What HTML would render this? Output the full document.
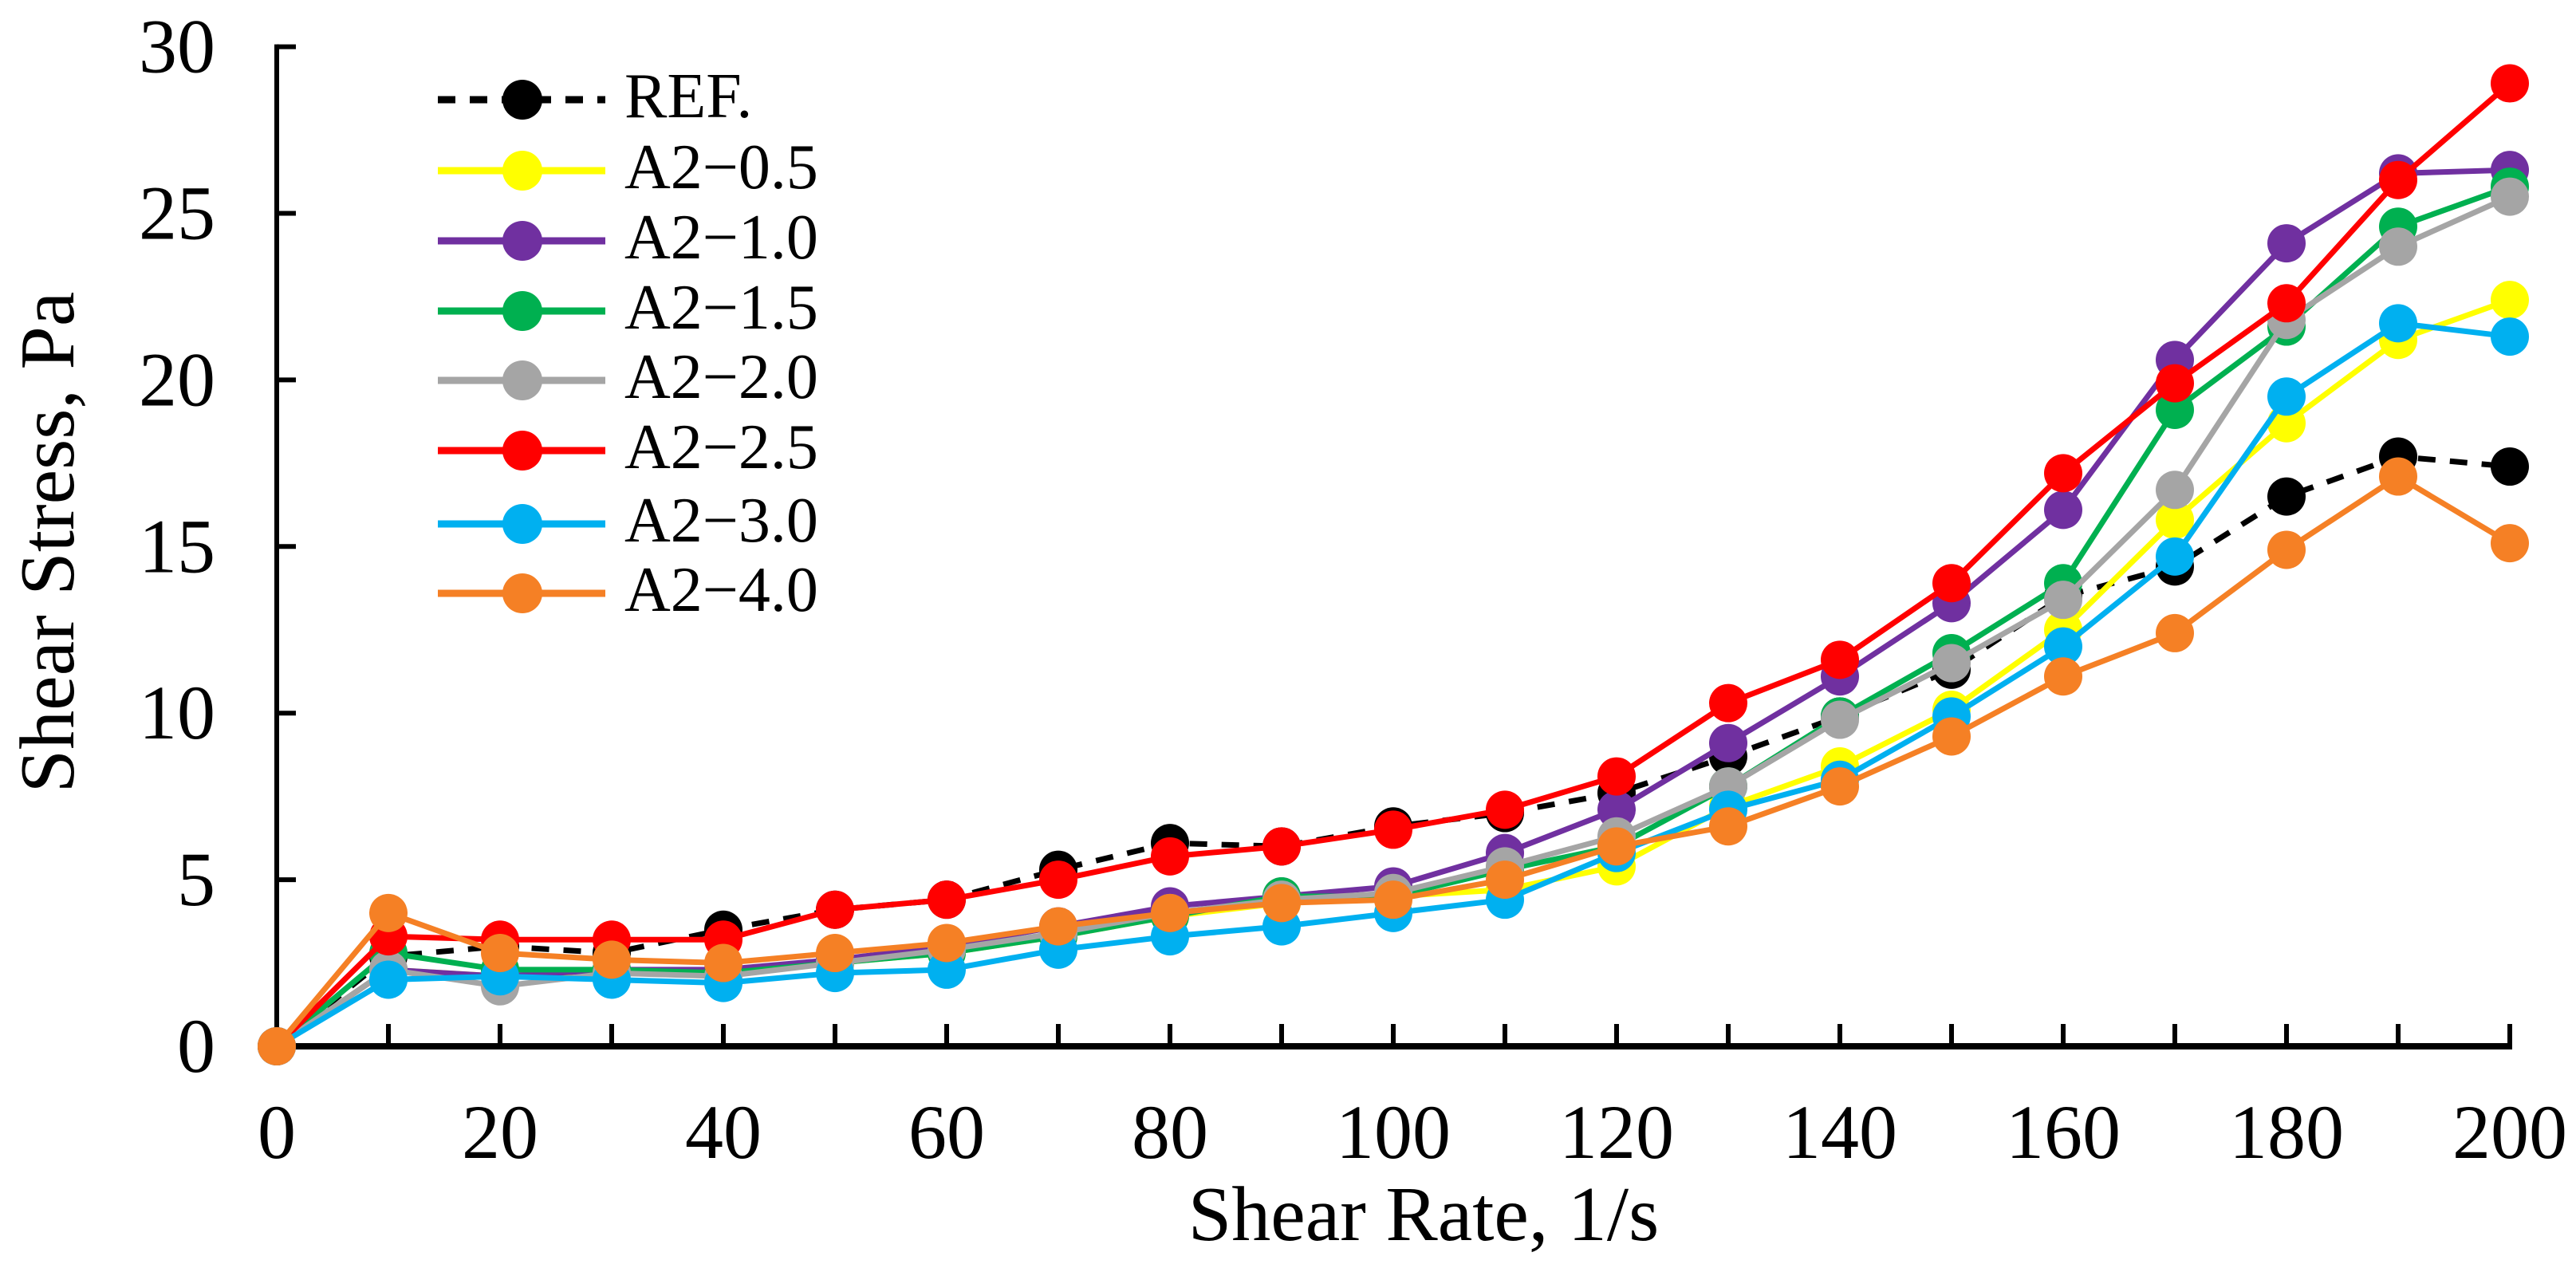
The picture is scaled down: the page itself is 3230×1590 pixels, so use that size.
<!DOCTYPE html>
<html><head><meta charset="utf-8">
<style>
html,body{margin:0;padding:0;background:#fff;}
svg{display:block;}
svg text{font-family:"Liberation Serif","Times New Roman",serif;}
</style></head>
<body>
<svg id="chart" width="3230" height="1590" viewBox="0 0 3230 1590" xmlns="http://www.w3.org/2000/svg">
<rect width="3230" height="1590" fill="#fff"/>
<g id="axes"></g>
<g id="series"></g>
<g id="legend"></g>
<text x="0" y="0" font-family="Liberation Serif, serif" font-size="98" text-anchor="middle" transform="translate(92 680) rotate(-90)">Shear Stress, Pa</text>
<text x="1785" y="1555" font-family="Liberation Serif, serif" font-size="98" text-anchor="middle">Shear Rate, 1/s</text>
</svg>
<script>
const shearRates = [0,10,20,30,40,50,60,70,80,90,100,110,120,130,140,150,160,170,180,190,200];
const seriesNames = ["REF.","A2\u22120.5","A2\u22121.0","A2\u22121.5","A2\u22122.0","A2\u22122.5","A2\u22123.0","A2\u22124.0"];
const refValues = [0,2.7,3.0,2.8,3.5,4.1,4.4,5.3,6.1,6.0,6.6,7.0,7.6,8.7,9.9,11.3,13.5,14.4,16.5,17.7,17.4];
const a05Values = [0,2.3,2.1,2.2,2.2,2.5,2.8,3.3,3.9,4.3,4.5,4.7,5.4,7.2,8.4,10.1,12.5,15.8,18.7,21.2,22.4];
const a10Values = [0,2.3,2.1,2.3,2.3,2.6,3.0,3.6,4.2,4.5,4.8,5.8,7.1,9.1,11.1,13.3,16.1,20.6,24.1,26.2,26.3];
const a15Values = [0,2.8,2.3,2.3,2.2,2.5,2.8,3.3,3.9,4.5,4.5,5.3,6.0,7.8,9.9,11.8,13.9,19.1,21.6,24.6,25.8];
const a20Values = [0,2.3,1.8,2.2,2.1,2.5,2.9,3.4,4.0,4.4,4.6,5.4,6.3,7.8,9.8,11.5,13.4,16.7,21.8,24.0,25.5];
const a25Values = [0,3.3,3.2,3.2,3.2,4.1,4.4,5.0,5.7,6.0,6.5,7.1,8.1,10.3,11.6,13.9,17.2,19.9,22.3,26.0,28.9];
const a30Values = [0,2.0,2.1,2.0,1.9,2.2,2.3,2.9,3.3,3.6,4.0,4.4,5.8,7.1,8.0,9.9,12.0,14.7,19.5,21.7,21.3];
const a40Values = [0,4.0,2.8,2.6,2.5,2.8,3.1,3.6,4.0,4.3,4.4,5.0,6.0,6.6,7.8,9.3,11.1,12.4,14.9,17.1,15.1];
const xTickLabels = [0,20,40,60,80,100,120,140,160,180,200];
const yTickLabels = [0,5,10,15,20,25,30];

const NS = "http://www.w3.org/2000/svg";
const FONT = "Liberation Serif, serif";
const X0=347, X1=3147, Y0=1312, Y1=58.6;
const xScale = v => X0 + (v-0)/(200-0)*(X1-X0);
const yScale = v => Y0 - (v-0)/(30-0)*(Y0-Y1);
function mk(tag, attrs, parent){const e=document.createElementNS(NS,tag);for(const k in attrs)e.setAttribute(k,attrs[k]);parent.appendChild(e);return e;}

const axes=document.getElementById('axes');
for(let v=10; v<=200; v+=10){
  const t=mk('line',{x1:xScale(v),x2:xScale(v),y1:Y0,y2:Y0-28,stroke:'#000','stroke-width':6},axes);
  
  
}
xTickLabels.forEach(v=>{
  const t=mk('text',{x:xScale(v),y:1452,'font-size':96,'font-family':FONT,'text-anchor':'middle'},axes);
  t.textContent=v;
  
  
});
yTickLabels.forEach(v=>{
  if(v>0){
    const t=mk('line',{x1:X0,x2:X0+24,y1:yScale(v),y2:yScale(v),stroke:'#000','stroke-width':6},axes);
    
    
  }
  const l=mk('text',{x:270,y:yScale(v)+32,'font-size':96,'font-family':FONT,'text-anchor':'end'},axes);
  l.textContent=v;
  
  
});
const xa=mk('line',{x1:X0,x2:X1+3,y1:Y0,y2:Y0,stroke:'#000','stroke-width':8},axes);


const ya=mk('line',{x1:X0,x2:X0,y1:Y0+4,y2:Y1-3,stroke:'#000','stroke-width':6},axes);



const allSeries=[refValues,a05Values,a10Values,a15Values,a20Values,a25Values,a30Values,a40Values];
const colors=['#000000','#FFFF00','#7030A0','#00B050','#A5A5A5','#FF0000','#00B0F0','#F58025'];
const slugs=['ref','a2-0-5','a2-1-0','a2-1-5','a2-2-0','a2-2-5','a2-3-0','a2-4-0'];
const sg=document.getElementById('series');
allSeries.forEach((vals,i)=>{
  const g=mk('g',{},sg);
  
  
  const pts=vals.map((v,j)=>xScale(shearRates[j])+','+yScale(v)).join(' ');
  const pl=mk('polyline',{points:pts,fill:'none',stroke:colors[i],'stroke-width':7,'stroke-linejoin':'round'},g);
  if(i===0) pl.setAttribute('stroke-dasharray','22 18');
  
  
  vals.forEach((v,j)=>{
    const c=mk('circle',{cx:xScale(shearRates[j]),cy:yScale(v),r:24,fill:colors[i]},g);
    
    
  });
});

const lg=document.getElementById('legend');
const rowY=[125,214,302,390,477,565,657,744];
seriesNames.forEach((n,i)=>{
  const g=mk('g',{},lg);
  
  
  const ln=mk('line',{x1:549,x2:759,y1:rowY[i],y2:rowY[i],stroke:colors[i],'stroke-width':9},g);
  if(i===0) ln.setAttribute('stroke-dasharray','22 18');
  mk('circle',{cx:655,cy:rowY[i],r:25,fill:colors[i]},g);
  const t=mk('text',{x:783,y:rowY[i]+22,'font-size':80,'font-family':FONT},g);
  t.textContent=n;
});
</script>
</body></html>
